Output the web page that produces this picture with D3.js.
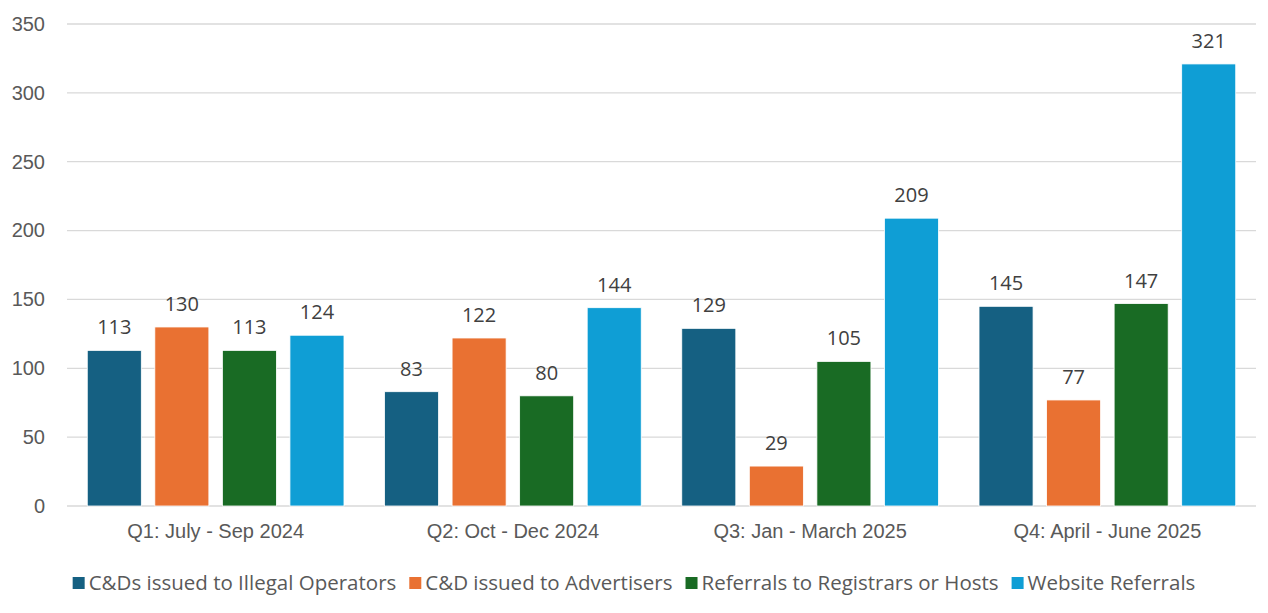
<!DOCTYPE html>
<html>
<head>
<meta charset="utf-8">
<script src="https://cdn.jsdelivr.net/npm/d3@7"></script>
<style>
  body { margin: 0; background: #fff; }
  svg { display: block; font-family: "Open Sans", "Liberation Sans", Arial, sans-serif; }
</style>
</head>
<body>
<script>
const quarters = ["Q1: July - Sep 2024", "Q2: Oct - Dec 2024", "Q3: Jan - March 2025", "Q4: April - June 2025"];
const seriesNames = ["C&Ds issued to Illegal Operators", "C&D issued to Advertisers", "Referrals to Registrars or Hosts", "Website Referrals"];
const seriesColors = ["#156082", "#E97132", "#196B24", "#0F9ED5"];
const illegalOperators = [113, 83, 129, 145];
const advertisers = [130, 122, 29, 77];
const registrars = [113, 80, 105, 147];
const websiteReferrals = [124, 144, 209, 321];
const yTicks = [0, 50, 100, 150, 200, 250, 300, 350];

const seriesValues = [illegalOperators, advertisers, registrars, websiteReferrals];

const W = 1268, H = 613;
const margin = {top: 24, right: 12, bottom: 107, left: 67};
const width = W - margin.left - margin.right,
    height = H - margin.top - margin.bottom;

const svg = d3.select('body').append('svg')
    .attr('width', W)
    .attr('height', H);

const g = svg.append('g')
    .attr('transform', `translate(${margin.left}, ${margin.top})`);

const scaleX = d3.scaleBand()
    .domain(quarters)
    .range([0, width]);

const scaleInner = d3.scaleBand()
    .domain(seriesNames)
    .range([0, scaleX.bandwidth()])
    .paddingInner(0.2)
    .paddingOuter(0.3);

const scaleY = d3.scaleLinear()
    .domain([0, 350])
    .range([height, 0]);

// gridlines
g.append('g')
    .selectAll('line')
    .data(yTicks)
    .enter()
    .append('line')
    .attr('x1', 0)
    .attr('x2', width)
    .attr('y1', d => scaleY(d))
    .attr('y2', d => scaleY(d))
    .attr('stroke', '#d9d9d9')
    .attr('stroke-width', 1.3);

const yAxis = d3.axisLeft(scaleY).tickValues(yTicks).tickSize(0).tickPadding(22);
const yAxisGroup = g.append('g').call(yAxis);
yAxisGroup.select('.domain').remove();
yAxisGroup.selectAll('text')
    .attr('fill', '#595959')
    .style('font-size', '20px');

const xAxis = d3.axisBottom(scaleX).tickSize(0).tickPadding(18);
const xAxisGroup = g.append('g')
    .attr('transform', `translate(0, ${height})`)
    .call(xAxis);
xAxisGroup.select('.domain').remove();
xAxisGroup.selectAll('text')
    .attr('fill', '#595959')
    .style('font-size', '20px');

const rows = [];
quarters.forEach((q, i) => {
    seriesNames.forEach((s, j) => {
        rows.push({quarter: q, series: s, value: seriesValues[j][i], color: seriesColors[j]});
    });
});

const bars = g.append('g')
    .selectAll('rect')
    .data(rows)
    .enter()
    .append('rect')
    .attr('fill', d => d.color)
    .attr('stroke', '#fff')
    .attr('stroke-width', 0.8)
    .attr('x', d => scaleX(d.quarter) + scaleInner(d.series))
    .attr('width', scaleInner.bandwidth())
    .attr('y', d => scaleY(d.value))
    .attr('height', d => height - scaleY(d.value));

g.append('g')
    .selectAll('text')
    .data(rows)
    .enter()
    .append('text')
    .attr('x', d => scaleX(d.quarter) + scaleInner(d.series) + scaleInner.bandwidth() / 2)
    .attr('y', d => scaleY(d.value) - 16)
    .attr('text-anchor', 'middle')
    .attr('fill', '#404040')
    .style('font-size', '20px')
    .text(d => d.value);

// legend
const legend = svg.append('g').attr('transform', `translate(0, 583)`);
const items = legend.selectAll('g')
    .data(seriesNames)
    .enter()
    .append('g');
items.append('rect')
    .attr('width', 12)
    .attr('height', 12)
    .attr('y', -6)
    .attr('fill', (d, i) => seriesColors[i]);
items.append('text')
    .attr('x', 16)
    .attr('dy', '0.35em')
    .attr('fill', '#595959')
    .style('font-size', '20.5px')
    .text(d => d);

let xPos = 0;
const gap = 13;
const widths = [];
items.each(function () { widths.push(this.getBBox().width); });
const total = d3.sum(widths) + gap * (widths.length - 1);
xPos = (W - total) / 2;
items.attr('transform', (d, i) => {
    const x = xPos;
    xPos += widths[i] + gap;
    return `translate(${x}, 0)`;
});
</script>
</body>
</html>
